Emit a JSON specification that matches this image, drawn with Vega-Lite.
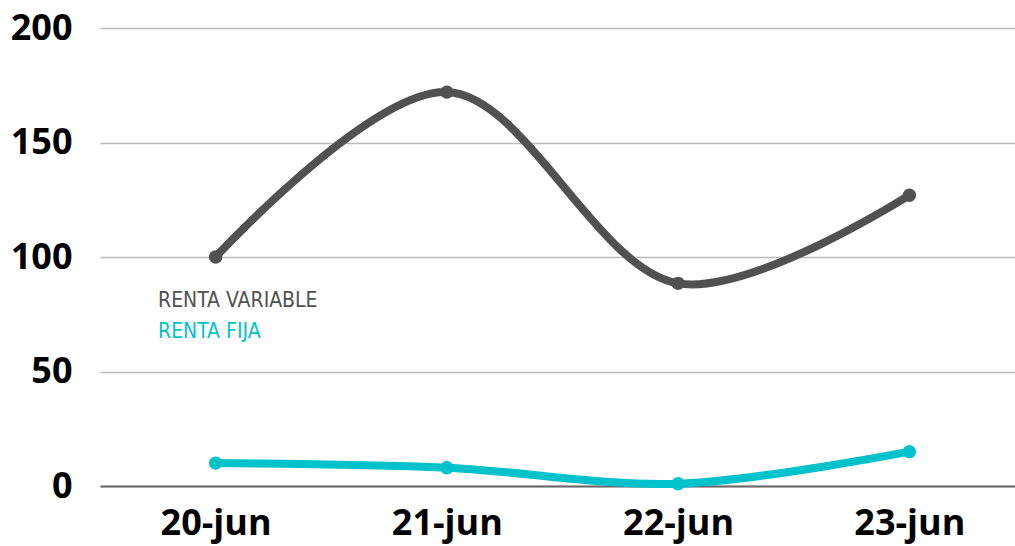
{
  "$schema": "https://vega.github.io/schema/vega-lite/v6.json",
  "width": 925,
  "height": 458,
  "autosize": {"type": "none"},
  "padding": {"left": 100, "top": 28, "right": 0, "bottom": 60},
  "background": "#ffffff",
  "config": {"view": {"stroke": null}},
  "data": {
    "values": [
      {"fecha": "20-jun", "serie": "RENTA VARIABLE", "valor": 100},
      {"fecha": "21-jun", "serie": "RENTA VARIABLE", "valor": 172},
      {"fecha": "22-jun", "serie": "RENTA VARIABLE", "valor": 88.5},
      {"fecha": "23-jun", "serie": "RENTA VARIABLE", "valor": 127},
      {"fecha": "20-jun", "serie": "RENTA FIJA", "valor": 10},
      {"fecha": "21-jun", "serie": "RENTA FIJA", "valor": 8},
      {"fecha": "22-jun", "serie": "RENTA FIJA", "valor": 1},
      {"fecha": "23-jun", "serie": "RENTA FIJA", "valor": 15}
    ]
  },
  "encoding": {
    "x": {
      "field": "fecha", "type": "ordinal", "title": null,
      "scale": {"type": "point", "padding": 0.5},
      "axis": {
        "labelAngle": 0, "labelFont": "Open Sans", "labelFontWeight": "bold",
        "labelFontSize": 36, "labelColor": "#000000", "labelPadding": 20,
        "ticks": false, "domain": true, "domainColor": "#666666", "domainWidth": 2,
        "grid": false
      }
    },
    "y": {
      "field": "valor", "type": "quantitative", "title": null,
      "scale": {"domain": [0, 200], "nice": false, "zero": true},
      "axis": {
        "values": [0, 50, 100, 150, 200],
        "labelFont": "Open Sans", "labelFontWeight": "bold", "labelFontSize": 36,
        "labelColor": "#000000", "labelPadding": 28, "labelAlign": "right",
        "ticks": false, "domain": false,
        "grid": true, "gridColor": "#bbbbbb", "gridWidth": 1.5
      }
    },
    "color": {
      "field": "serie", "type": "nominal",
      "scale": {"domain": ["RENTA VARIABLE", "RENTA FIJA"], "range": ["#515151", "#00C2CB"]},
      "legend": {
        "title": null, "orient": "none", "legendX": 37, "legendY": 262,
        "symbolOpacity": 0, "symbolSize": 0, "symbolStrokeWidth": 0,
        "labelOffset": 0, "labelFont": "DejaVu Sans Condensed", "labelFontSize": 21,
        "labelLimit": 0, "rowPadding": 9,
        "encode": {
          "labels": {
            "update": {
              "fill": {"signal": "datum.value === 'RENTA FIJA' ? '#00C2CB' : '#515151'"}
            }
          }
        }
      }
    }
  },
  "layer": [
    {
      "mark": {"type": "line", "interpolate": "catmull-rom", "strokeWidth": 8, "strokeCap": "round"}
    },
    {
      "mark": {"type": "point", "filled": true, "opacity": 1, "size": 180},
      "encoding": {}
    }
  ]
}
